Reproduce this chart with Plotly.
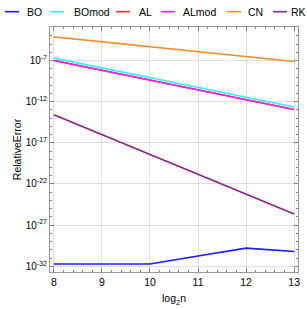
import plotly.graph_objects as go

x = [8, 9, 10, 11, 12, 13]
BO = [-31.73, -31.73, -31.73, -30.75, -29.8, -30.2]
BOmod = [-6.7, -7.9, -9.1, -10.3, -11.5, -12.65]
AL = [-7.0, -8.2, -9.4, -10.6, -11.8, -12.95]
ALmod = [-7.0, -8.2, -9.4, -10.6, -11.8, -12.95]
CN = [-4.12, -4.72, -5.32, -5.92, -6.52, -7.12]
RK = [-13.6, -16.0, -18.4, -20.8, -23.2, -25.65]

names = ["BO", "BOmod", "AL", "ALmod", "CN", "RK"]
values = [BO, BOmod, AL, ALmod, CN, RK]
colors = ["#1a1aff", "#33f0f0", "#f03030", "#f020f0", "#f0902a", "#8a208a"]

ytick_exp = [-32, -27, -22, -17, -12, -7]

W, H = 307, 309
L, R, T, B = 50, 9, 27, 37
PW, PH = W - L - R, H - T - B

fig = go.Figure()
for name, vals, col in zip(names, values, colors):
    fig.add_trace(go.Scatter(x=x, y=[10 ** v for v in vals], mode="lines", name=name,
                             line=dict(color=col, width=1.6), showlegend=False))

# manual legend row, positioned in pixels converted to paper fractions
leg_line_x = [5, 50, 116, 161, 227, 273]
leg_text_x = [25, 72, 137, 181, 246, 289]
leg_py = 11.7
shapes, annos = [], []
for lx, tx, name, col in zip(leg_line_x, leg_text_x, names, colors):
    yy = (H - B - leg_py) / PH
    shapes.append(dict(type="line", xref="paper", yref="paper",
                       x0=(lx - L) / PW, x1=(lx + 14 - L) / PW, y0=yy, y1=yy,
                       line=dict(color=col, width=1.6)))
    annos.append(dict(text=name, xref="paper", yref="paper",
                      x=(tx - L) / PW, y=yy,
                      xanchor="left", yanchor="middle", showarrow=False,
                      font=dict(size=10.5, color="black",
                                family="Liberation Sans, Arial")))

fig.update_layout(
    width=W, height=H,
    margin=dict(l=L, r=R, t=T, b=B, autoexpand=False),
    paper_bgcolor="white", plot_bgcolor="white",
    font=dict(family="Liberation Sans, Arial", size=10, color="black"),
    showlegend=False, shapes=shapes, annotations=annos,
)
fig.update_xaxes(range=[7.92, 13.08], tickvals=x, ticktext=[str(v) for v in x],
                 ticks="inside", ticklen=4, tickcolor="gray", showline=True,
                 linecolor="#999", mirror="ticks", showgrid=True, gridcolor="#ddd",
                 minor=dict(dtick=0.2, ticks="inside", ticklen=2, tickcolor="gray"),
                 title=dict(text="log<sub>2</sub>n", font=dict(size=10.5), standoff=8),
                 tickfont=dict(size=10.5), automargin=False,
                 zeroline=False)
fig.update_yaxes(type="log", range=[-32.7, -2.92],
                 tickvals=[10 ** e for e in ytick_exp],
                 ticktext=["10<sup>%d</sup>" % e for e in ytick_exp],
                 ticks="inside", ticklen=4, tickcolor="gray", showline=True,
                 linecolor="#999", mirror="ticks", showgrid=True, gridcolor="#ddd",
                 minor=dict(dtick=1, ticks="inside", ticklen=2, tickcolor="gray", showgrid=False),
                 title=dict(text="RelativeError", font=dict(size=10.5), standoff=2),
                 tickfont=dict(size=10), automargin=False,
                 zeroline=False)

fig.write_html("out.html", config={"displayModeBar": False},
               post_script="document.body.style.margin='0px';")
